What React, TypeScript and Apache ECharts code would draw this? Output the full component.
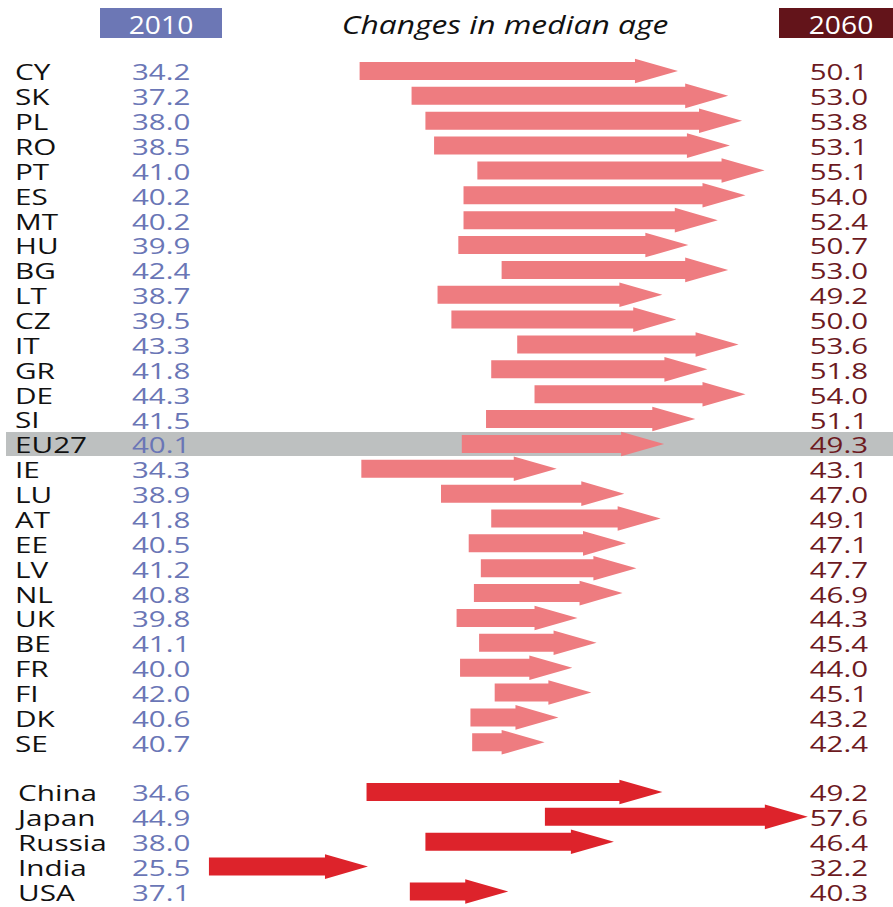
import React, { useEffect, useRef } from "react";
import * as echarts from "echarts";

const countries = ["CY","SK","PL","RO","PT","ES","MT","HU","BG","LT","CZ","IT","GR","DE","SI","EU27","IE","LU","AT","EE","LV","NL","UK","BE","FR","FI","DK","SE","","China","Japan","Russia","India","USA"];
const v2010 = [34.2,37.2,38.0,38.5,41.0,40.2,40.2,39.9,42.4,38.7,39.5,43.3,41.8,44.3,41.5,40.1,34.3,38.9,41.8,40.5,41.2,40.8,39.8,41.1,40.0,42.0,40.6,40.7,null,34.6,44.9,38.0,25.5,37.1];
const v2060 = [50.1,53.0,53.8,53.1,55.1,54.0,52.4,50.7,53.0,49.2,50.0,53.6,51.8,54.0,51.1,49.3,43.1,47.0,49.1,47.1,47.7,46.9,44.3,45.4,44.0,45.1,43.2,42.4,null,49.2,57.6,46.4,32.2,40.3];
const groups = ["EU","EU","EU","EU","EU","EU","EU","EU","EU","EU","EU","EU","EU","EU","EU","EU27","EU","EU","EU","EU","EU","EU","EU","EU","EU","EU","EU","EU","","World","World","World","World","World"];

const title = "Changes in median age";
const leftHeader = "2010";
const rightHeader = "2060";

const FONT = "'Open Sans', 'DejaVu Sans', sans-serif";
const PINK = "#ee7c80";
const RED = "#dd232b";
const BLUE_TXT = "#6a76b6";
const MAROON_TXT = "#6d1a1f";

export default function App() {
  const ref = useRef<HTMLDivElement>(null);
  useEffect(() => {
    document.body.style.margin = "0";
    const chart = echarts.init(ref.current!, null, { renderer: "svg" });
    const data = countries.map((c, i) => [i, v2010[i], v2060[i], c, groups[i]]);
    const option: any = {
      animation: false,
      backgroundColor: "#ffffff",
      grid: { left: 0, right: 0, top: 58.57, height: 845.3, containLabel: false },
      xAxis: { type: "value", min: 13.435, max: 65.0, show: false },
      yAxis: { type: "category", data: countries, inverse: true, show: false },
      graphic: [
        { type: "rect", shape: { x: 100, y: 8, width: 122, height: 30 }, style: { fill: "#6c77b5" } },
        { type: "text", x: 161, y: 24, scaleX: 1.13, style: { text: leftHeader, fill: "#ffffff", font: `25px ${FONT}`, lineHeight: 24, textAlign: "center", textVerticalAlign: "middle" } },
        { type: "rect", shape: { x: 779, y: 8, width: 114, height: 30 }, style: { fill: "#63141a" } },
        { type: "text", x: 841, y: 24, scaleX: 1.13, style: { text: rightHeader, fill: "#ffffff", font: `25px ${FONT}`, lineHeight: 24, textAlign: "center", textVerticalAlign: "middle" } },
        { type: "text", x: 505, y: 24, scaleX: 1.27, style: { text: title, fill: "#111111", font: `italic 25px ${FONT}`, lineHeight: 24, textAlign: "center", textVerticalAlign: "middle" } },
      ],
      series: [
        {
          type: "custom",
          data,
          encode: { x: [1, 2], y: 0 },
          renderItem: (params: any, api: any) => {
            const idx = api.value(0);
            const name = countries[idx];
            if (!name) return { type: "group", children: [] };
            const a = v2010[idx] as number;
            const b = v2060[idx] as number;
            const p1 = api.coord([a, idx]);
            const p2 = api.coord([b, idx]);
            const y = p1[1];
            const x1 = p1[0];
            const x2 = p2[0];
            const grp = groups[idx];
            const children: any[] = [];
            if (grp === "EU27") {
              children.push({ type: "rect", shape: { x: 6, y: y - 12, width: 887, height: 24 }, style: { fill: "#bdc0c0" } });
            }
            const sh = 9, hh = 12.3, hl = 43;
            children.push({
              type: "polygon",
              shape: { points: [[x1, y - sh], [x2, y - sh], [x2, y - hh], [x2 + hl, y], [x2, y + hh], [x2, y + sh], [x1, y + sh]] },
              style: { fill: grp === "World" ? RED : PINK },
            });
            const nameX = grp === "World" ? 18 : 15;
            const common = { font: `22px ${FONT}`, lineHeight: 20, textVerticalAlign: "middle" };
            children.push({ type: "text", x: nameX, y: y + 1, scaleX: 1.35, style: { ...common, text: name, fill: "#111111", textAlign: "left" } });
            children.push({ type: "text", x: 132, y: y + 1, scaleX: 1.34, style: { ...common, text: a.toFixed(1), fill: BLUE_TXT, textAlign: "left" } });
            children.push({ type: "text", x: 868, y: y + 1, scaleX: 1.34, style: { ...common, text: b.toFixed(1), fill: MAROON_TXT, textAlign: "right" } });
            return { type: "group", children };
          },
        },
      ],
    };
    chart.setOption(option);
    return () => chart.dispose();
  }, []);
  return <div ref={ref} style={{ width: 893, height: 907 }} />;
}
